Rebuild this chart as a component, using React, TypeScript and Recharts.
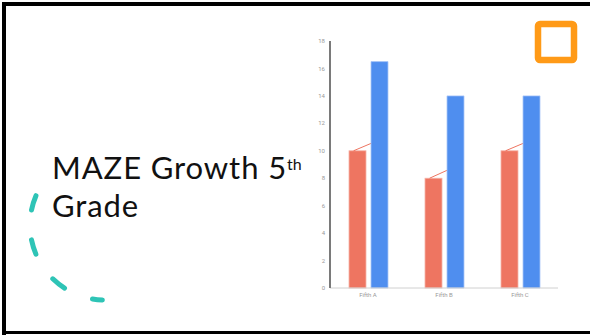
import React from "react";
import { BarChart, Bar, XAxis, YAxis } from "recharts";

const classes = ["Fifth A", "Fifth B", "Fifth C"];
const fallScores = [10, 8, 10];
const springScores = [16.5, 14, 14];
// where the little growth stroke from each fall bar ends
const growthMarks = [10.7, 8.75, 10.7];
const yTicks = [0, 2, 4, 6, 8, 10, 12, 14, 16, 18];

const data = classes.map((name, i) => ({
  name,
  fall: fallScores[i],
  spring: springScores[i],
  mark: growthMarks[i],
}));

const SALMON = "#EE7561";
const BLUE = "#4F8EEF";

// fall bar with a short rising stroke from its top towards the spring bar
function FallBar(props: any) {
  const { x, y, width, height, value, payload } = props;
  const perUnit = value ? height / value : 0;
  const endY = y - (payload.mark - value) * perUnit;
  return (
    <g>
      <rect x={x} y={y} width={width} height={height} fill={SALMON} stroke="#F6B3A7" strokeWidth={0.8} />
      <line x1={x + width * 0.27} y1={y} x2={x + 27.3} y2={endY} stroke={SALMON} strokeWidth={1} />
    </g>
  );
}

export default function App() {
  const cx = 105;
  const cy = 225;
  const r = 75;
  const a0 = (203 * Math.PI) / 180;
  const a1 = (92 * Math.PI) / 180;
  const arc = `M ${cx + r * Math.cos(a0)} ${cy + r * Math.sin(a0)} A ${r} ${r} 0 0 0 ${cx + r * Math.cos(a1)} ${cy + r * Math.sin(a1)}`;

  return (
    <div style={{ position: "absolute", left: 0, top: 0, width: 590, height: 335, background: "#fff", overflow: "hidden" }}>
      {/* slide frame */}
      <div style={{ position: "absolute", left: 2, top: 2, width: 4, height: 333, background: "#000" }} />
      <div style={{ position: "absolute", left: 2, top: 2, width: 588, height: 3.5, background: "#000" }} />
      <div style={{ position: "absolute", left: 2, top: 331, width: 588, height: 3, background: "#000" }} />

      <svg width={590} height={335} style={{ position: "absolute", left: 0, top: 0 }}>
        <path d={arc} fill="none" stroke="#2EC4B6" strokeWidth={5} strokeLinecap="round" strokeDasharray="15 30" />
        <rect x={538} y={24} width={36} height={36} rx={2} fill="none" stroke="#FF9A17" strokeWidth={6.5} />
      </svg>

      <div
        style={{
          position: "absolute",
          left: 52,
          top: 149,
          fontFamily: "Lato, 'DejaVu Sans', sans-serif",
          fontSize: 31,
          lineHeight: "37.5px",
          letterSpacing: 0.9,
          color: "#111",
          whiteSpace: "nowrap",
        }}
      >
        MAZE Growth 5<sup style={{ fontSize: 16, verticalAlign: "top", position: "relative", top: -4, letterSpacing: 0 }}>th</sup>
        <br />
        Grade
      </div>

      <div style={{ position: "absolute", left: 290, top: 30 }}>
        <BarChart
          width={280}
          height={280}
          data={data}
          margin={{ top: 11, right: 12, bottom: 2, left: 0 }}
          barSize={17}
          barGap={5}
        >
          <XAxis
            dataKey="name"
            height={20}
            tickLine={false}
            tickSize={5}
            tickMargin={0}
            axisLine={{ stroke: "#d0d0d0", strokeWidth: 1 }}
            tick={{ fontSize: 6, fill: "#999", fontFamily: "Roboto, sans-serif" }}
          />
          <YAxis
            width={40}
            domain={[0, 18]}
            ticks={yTicks}
            interval={0}
            tickLine={false}
            tickSize={5}
            tickMargin={0}
            axisLine={{ stroke: "#7a7a7a", strokeWidth: 2 }}
            tick={{ fontSize: 6, fill: "#999", fontFamily: "Roboto, sans-serif" }}
          />
          <Bar dataKey="fall" fill={SALMON} shape={<FallBar />} isAnimationActive={false} />
          <Bar dataKey="spring" fill={BLUE} stroke="#A9C7F7" strokeWidth={0.8} isAnimationActive={false} />
        </BarChart>
      </div>
    </div>
  );
}
